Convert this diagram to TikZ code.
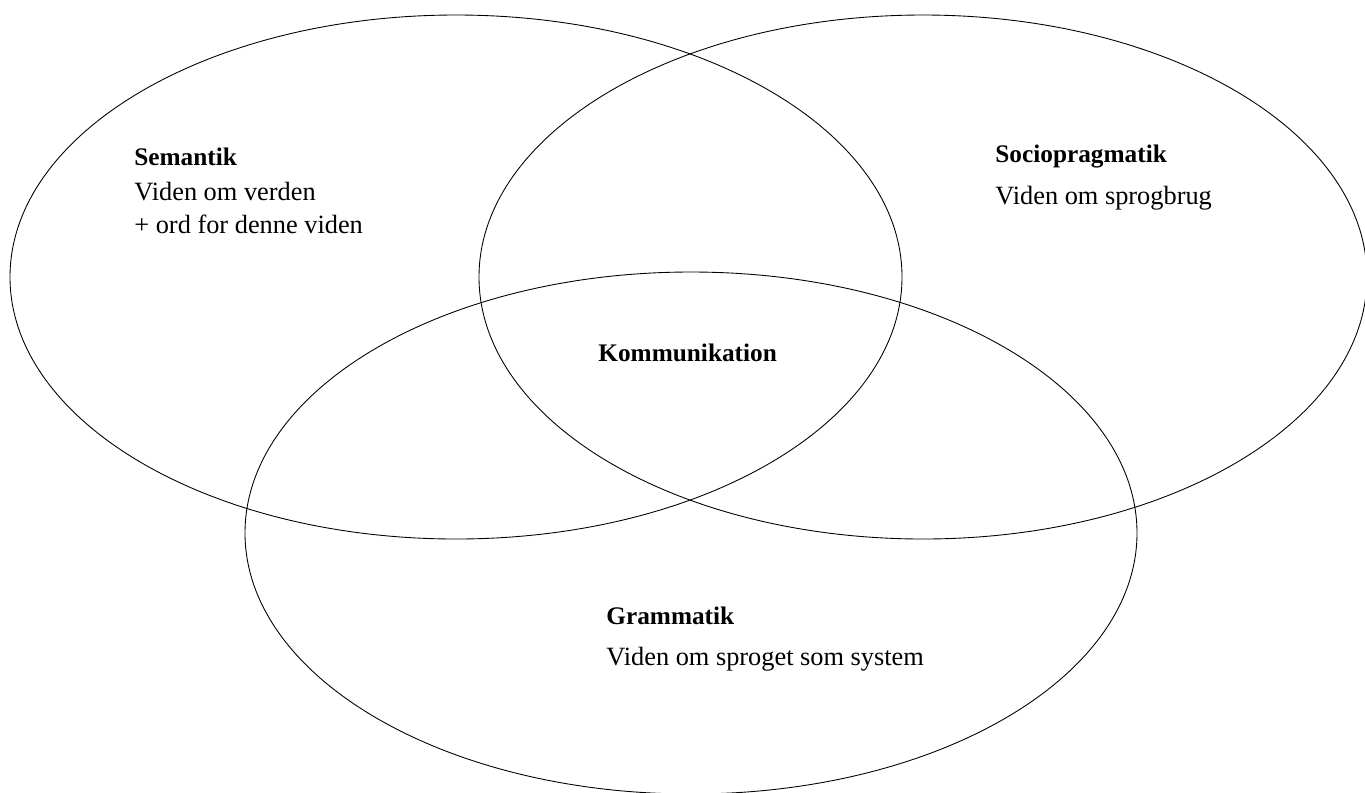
\documentclass[tikz,border=0pt]{standalone}
\usepackage{fontspec}
\setmainfont{Liberation Serif}

\tikzset{
  ring/.style={black, line width=0.5pt},
  head/.style={anchor=west, inner sep=0pt, font=\fontsize{14.4}{19}\selectfont\bfseries},
  body/.style={anchor=west, inner sep=0pt, align=left, font=\fontsize{15}{19}\selectfont}
}

\begin{document}
\begin{tikzpicture}[x=0.02cm, y=-0.02cm]
        \useasboundingbox (0,0) rectangle (1365,792);

        \draw[ring] (456, 277) ellipse [x radius=446, y radius=262];
        \draw[ring] (923, 277) ellipse [x radius=444, y radius=262];
        \draw[ring] (691, 533) ellipse [x radius=446, y radius=261];

        \node[head] (semantik) at (134, 157) {Semantik};
        \node[body] (semantiktxt) at (134, 208) {Viden om verden\\+ ord for denne viden};

        \node[head] (socio) at (995, 157) {Sociopragmatik};
        \node[body] (sociotxt) at (995, 198) {Viden om sprogbrug};

        \node[head] (komm) at (598, 353) {Kommunikation};

        \node[head] (gram) at (606, 616) {Grammatik};
        \node[body] (gramtxt) at (606, 659) {Viden om sproget som system};
    \end{tikzpicture}
\end{document}
